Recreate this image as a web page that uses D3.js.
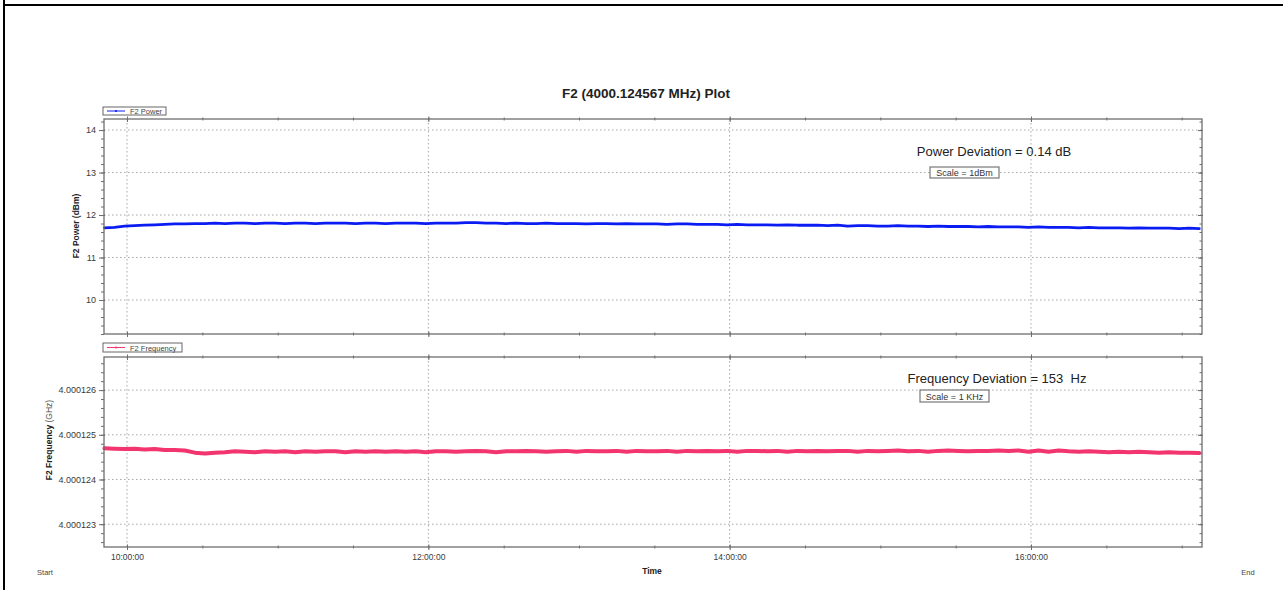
<!DOCTYPE html>
<html>
<head>
<meta charset="utf-8">
<script src="https://cdn.jsdelivr.net/npm/d3@7"></script>
<style>
  body { margin: 0; background: #fff; }
  svg { display: block; font-family: Arial, "Liberation Sans", sans-serif; }
</style>
</head>
<body>
<svg id="chart" width="1283" height="590"></svg>
<script>
// ---- Data -------------------------------------------------------------
// Samples are logged every 4 minutes, starting at 09:51.
const sampleStart = "09:51:00";
const sampleStepMinutes = 4;

// F2 output power, dBm
const powerDbm = [
  11.70, 11.71, 11.74, 11.75, 11.76, 11.77, 11.78, 11.79, 11.79, 11.80, 11.80,
  11.81, 11.80, 11.81, 11.81, 11.80, 11.81, 11.81, 11.80, 11.81, 11.81, 11.80, 11.81, 11.81, 11.81, 11.80, 11.81, 11.81, 11.80, 11.81,
  11.81, 11.81, 11.80, 11.81, 11.81, 11.81, 11.82, 11.82, 11.81, 11.81, 11.80,
  11.81, 11.80, 11.80, 11.81, 11.80, 11.80, 11.80, 11.79, 11.80, 11.80, 11.79, 11.80, 11.79, 11.79, 11.79, 11.78, 11.79, 11.79, 11.78,
  11.78, 11.78, 11.77, 11.78, 11.77, 11.77, 11.77, 11.76, 11.77, 11.76, 11.76, 11.76, 11.75, 11.76, 11.74, 11.75,
  11.75, 11.74, 11.74, 11.75, 11.74, 11.74, 11.73, 11.74, 11.73, 11.73, 11.73, 11.72, 11.73, 11.72, 11.72,
  11.72, 11.71, 11.72, 11.71, 11.71, 11.71, 11.70, 11.71, 11.70, 11.70, 11.70, 11.69, 11.70, 11.69, 11.69, 11.69, 11.68, 11.69, 11.68
];

// F2 frequency, kHz above 4 GHz
const freqOffsetKHz = [
  124.70, 124.69, 124.68, 124.69, 124.67, 124.68, 124.66, 124.66, 124.65, 124.60, 124.58,
  124.60, 124.61, 124.63, 124.62, 124.61, 124.63, 124.62, 124.63, 124.61, 124.63, 124.62, 124.63, 124.63, 124.61, 124.63, 124.62, 124.63, 124.62, 124.63,
  124.62, 124.63, 124.61, 124.63, 124.63, 124.62, 124.63, 124.64, 124.63, 124.61, 124.63,
  124.63, 124.64, 124.63, 124.62, 124.63, 124.64, 124.62, 124.64, 124.63, 124.63, 124.64, 124.62, 124.64, 124.63, 124.63, 124.64, 124.62, 124.64, 124.63,
  124.64, 124.63, 124.64, 124.62, 124.64, 124.64, 124.63, 124.64, 124.62, 124.64, 124.63, 124.64, 124.63, 124.64, 124.64, 124.62,
  124.64, 124.63, 124.64, 124.65, 124.63, 124.64, 124.62, 124.64, 124.65, 124.64, 124.63, 124.64, 124.64, 124.65, 124.64,
  124.65, 124.62, 124.65, 124.62, 124.65, 124.63, 124.62, 124.63, 124.62, 124.61, 124.62, 124.61, 124.62, 124.61, 124.60, 124.61, 124.60, 124.60, 124.59
];

// Axes
const timeDomain = ["09:50:50", "17:08:06"];
const timeMajorTicks = ["10:00:00", "12:00:00", "14:00:00", "16:00:00"];
const timeMinorStepMinutes = 30;
const powerDomain = [9.2, 14.26];
const powerTicks = [10, 11, 12, 13, 14];
const freqDomain = [122.49, 126.74];
const freqTicks = [123, 124, 125, 126];
const minorPerMajor = 5;

// ---- Layout -----------------------------------------------------------
const svg = d3.select("#chart");
const W = 1283, H = 590;
const left = 104, right = 1202;
const topPanel = { y0: 119, y1: 334 };
const botPanel = { y0: 357, y1: 547 };

const frameColor = "#6e6e6e";
const labelColor = "#3a3a3a";
const gridColor = "#a8a8a8";

svg.append("rect").attr("width", W).attr("height", H).attr("fill", "#fff");

// page frame
svg.append("line").attr("x1", 3).attr("x2", W).attr("y1", 5).attr("y2", 5)
  .attr("stroke", "#000").attr("stroke-width", 2);
svg.append("line").attr("x1", 4).attr("x2", 4).attr("y1", 0).attr("y2", H)
  .attr("stroke", "#000").attr("stroke-width", 2);

const parseT = d3.timeParse("%H:%M:%S");
const t0 = parseT(sampleStart);
const sampleTime = i => d3.timeMinute.offset(t0, i * sampleStepMinutes);

const x = d3.scaleTime().domain(timeDomain.map(parseT)).range([left, right]);
const xMajor = timeMajorTicks.map(parseT);
const xMinor = d3.timeMinute.every(timeMinorStepMinutes).range(x.domain()[0], x.domain()[1]);

function minorValues(domain, majors) {
  const step = (majors[1] - majors[0]) / minorPerMajor;
  const out = [];
  const startK = Math.ceil((domain[0] - majors[0]) / step - 1e-9);
  for (let k = startK; majors[0] + k * step <= domain[1] + 1e-9; k++) {
    out.push(+(majors[0] + k * step).toFixed(6));
  }
  return out;
}

function panel(p, yDomain, yTicks, yFormat, series, color, width) {
  const y = d3.scaleLinear().domain(yDomain).range([p.y1, p.y0]);
  const g = svg.append("g");
  const yMinor = minorValues(yDomain, yTicks);

  // dotted grid
  g.append("g").selectAll("line").data(yTicks).join("line")
    .attr("x1", left).attr("x2", right)
    .attr("y1", d => y(d)).attr("y2", d => y(d))
    .attr("stroke", gridColor).attr("stroke-width", 1).attr("stroke-dasharray", "1.5,2.5");
  g.append("g").selectAll("line").data(xMajor).join("line")
    .attr("x1", d => x(d)).attr("x2", d => x(d))
    .attr("y1", p.y0).attr("y2", p.y1)
    .attr("stroke", gridColor).attr("stroke-width", 1).attr("stroke-dasharray", "1.5,2.5");

  // data trace
  const line = d3.line().x((d, i) => x(sampleTime(i))).y(d => y(d)).curve(d3.curveLinear);
  g.append("path").datum(series).attr("d", line)
    .attr("fill", "none").attr("stroke", color).attr("stroke-width", width)
    .attr("stroke-linejoin", "round").attr("stroke-linecap", "round");

  // left axis: labels + major ticks
  const la = g.append("g").attr("transform", `translate(${left},0)`)
    .call(d3.axisLeft(y).tickValues(yTicks).tickSize(5).tickPadding(3).tickFormat(yFormat));
  la.select(".domain").remove();
  la.selectAll(".tick line").attr("stroke", frameColor).attr("x2", -5).attr("x1", 1);
  la.selectAll(".tick text").attr("fill", labelColor).style("font-size", "9px")
    .style("font-family", "Arial, 'Liberation Sans', sans-serif");
  const lm = g.append("g").attr("transform", `translate(${left},0)`)
    .call(d3.axisLeft(y).tickValues(yMinor).tickSize(3).tickFormat(""));
  lm.select(".domain").remove();
  lm.selectAll(".tick line").attr("stroke", frameColor);

  // right axis: inward ticks
  const ra = g.append("g").attr("transform", `translate(${right},0)`)
    .call(d3.axisRight(y).tickValues(yTicks).tickSize(-4).tickFormat(""));
  ra.select(".domain").remove();
  ra.selectAll(".tick line").attr("stroke", frameColor).attr("x1", 1);
  const rm = g.append("g").attr("transform", `translate(${right},0)`)
    .call(d3.axisRight(y).tickValues(yMinor).tickSize(-2.5).tickFormat(""));
  rm.select(".domain").remove();
  rm.selectAll(".tick line").attr("stroke", frameColor);

  // top and bottom time ticks crossing the frame
  [p.y0, p.y1].forEach(yy => {
    const ta = g.append("g").attr("transform", `translate(0,${yy})`)
      .call(d3.axisBottom(x).tickValues(xMinor).tickSize(2).tickFormat(""));
    ta.select(".domain").remove();
    ta.selectAll(".tick line").attr("stroke", frameColor).attr("y1", -1.5).attr("y2", 1.5);
    const tm = g.append("g").attr("transform", `translate(0,${yy})`)
      .call(d3.axisBottom(x).tickValues(xMajor).tickSize(3).tickFormat(""));
    tm.select(".domain").remove();
    tm.selectAll(".tick line").attr("stroke", frameColor).attr("y1", -2.5).attr("y2", 3);
  });

  // frame
  g.append("rect").attr("x", left).attr("y", p.y0)
    .attr("width", right - left).attr("height", p.y1 - p.y0)
    .attr("fill", "none").attr("stroke", frameColor).attr("stroke-width", 1.3);
  return y;
}

panel(topPanel, powerDomain, powerTicks, d3.format("d"), powerDbm, "#0b1cf2", 2.8);
panel(botPanel, freqDomain, freqTicks, d => (4 + d / 1e6).toFixed(6), freqOffsetKHz, "#f2356e", 4);

// time labels under the lower panel
const xa = svg.append("g").attr("transform", `translate(0,${botPanel.y1})`)
  .call(d3.axisBottom(x).tickValues(xMajor).tickSize(0).tickPadding(7)
    .tickFormat(d3.timeFormat("%H:%M:%S")));
xa.select(".domain").remove();
xa.selectAll(".tick text").attr("fill", labelColor).style("font-size", "8.5px")
  .style("font-family", "Arial, 'Liberation Sans', sans-serif");

// ---- Text -------------------------------------------------------------
svg.append("text").attr("x", 646).attr("y", 98).attr("text-anchor", "middle")
  .attr("font-weight", "bold").attr("font-size", 13.5).attr("fill", "#222")
  .text("F2 (4000.124567 MHz) Plot");

svg.append("text").attr("transform", "translate(79,226) rotate(-90)")
  .attr("text-anchor", "middle").attr("font-weight", "bold").attr("font-size", 8.5)
  .attr("fill", "#222").text("F2 Power (dBm)");

const fy = svg.append("text").attr("transform", "translate(52,440) rotate(-90)")
  .attr("text-anchor", "middle").attr("font-size", 8.5).attr("fill", "#222");
fy.append("tspan").attr("font-weight", "bold").text("F2 Frequency");
fy.append("tspan").attr("fill", "#555").text(" (GHz)");

svg.append("text").attr("x", 652).attr("y", 574).attr("text-anchor", "middle")
  .attr("font-weight", "bold").attr("font-size", 8.5).attr("fill", "#222").text("Time");
svg.append("text").attr("x", 45).attr("y", 575).attr("text-anchor", "middle")
  .attr("font-size", 7.5).attr("fill", "#444").text("Start");
svg.append("text").attr("x", 1248).attr("y", 575).attr("text-anchor", "middle")
  .attr("font-size", 7.5).attr("fill", "#444").text("End");

// deviation notes
function note(cx, cy, big, small, bx, by, bw, bh) {
  svg.append("text").attr("x", cx).attr("y", cy).attr("text-anchor", "middle")
    .attr("font-size", 13).attr("fill", "#222").text(big);
  svg.append("rect").attr("x", bx).attr("y", by).attr("width", bw).attr("height", bh)
    .attr("fill", "#fff").attr("stroke", "#777").attr("stroke-width", 1.2);
  svg.append("text").attr("x", bx + bw / 2).attr("y", by + bh - 2.5).attr("text-anchor", "middle")
    .attr("font-size", 9).attr("fill", "#333").text(small);
}
note(994, 156, "Power Deviation = 0.14 dB", "Scale = 1dBm", 930, 167, 69, 11);
note(997, 383, "Frequency Deviation = 153\u00a0 Hz", "Scale = 1 KHz", 920, 390, 69, 12);

// legends
function legend(xl, yl, w, h, color, label) {
  svg.append("rect").attr("x", xl).attr("y", yl).attr("width", w).attr("height", h)
    .attr("fill", "#fff").attr("stroke", "#666").attr("stroke-width", 1);
  svg.append("line").attr("x1", xl + 4).attr("x2", xl + 22).attr("y1", yl + h / 2).attr("y2", yl + h / 2)
    .attr("stroke", color).attr("stroke-width", 1);
  svg.append("circle").attr("cx", xl + 13).attr("cy", yl + h / 2).attr("r", 1.1).attr("fill", color);
  svg.append("text").attr("x", xl + 27).attr("y", yl + h - 1.5).attr("font-size", 7.5)
    .attr("fill", "#444").text(label);
}
legend(103, 107, 63, 8, "#0b1cf2", "F2 Power");
legend(103, 343, 79, 9, "#f2356e", "F2 Frequency");
</script>
</body>
</html>
